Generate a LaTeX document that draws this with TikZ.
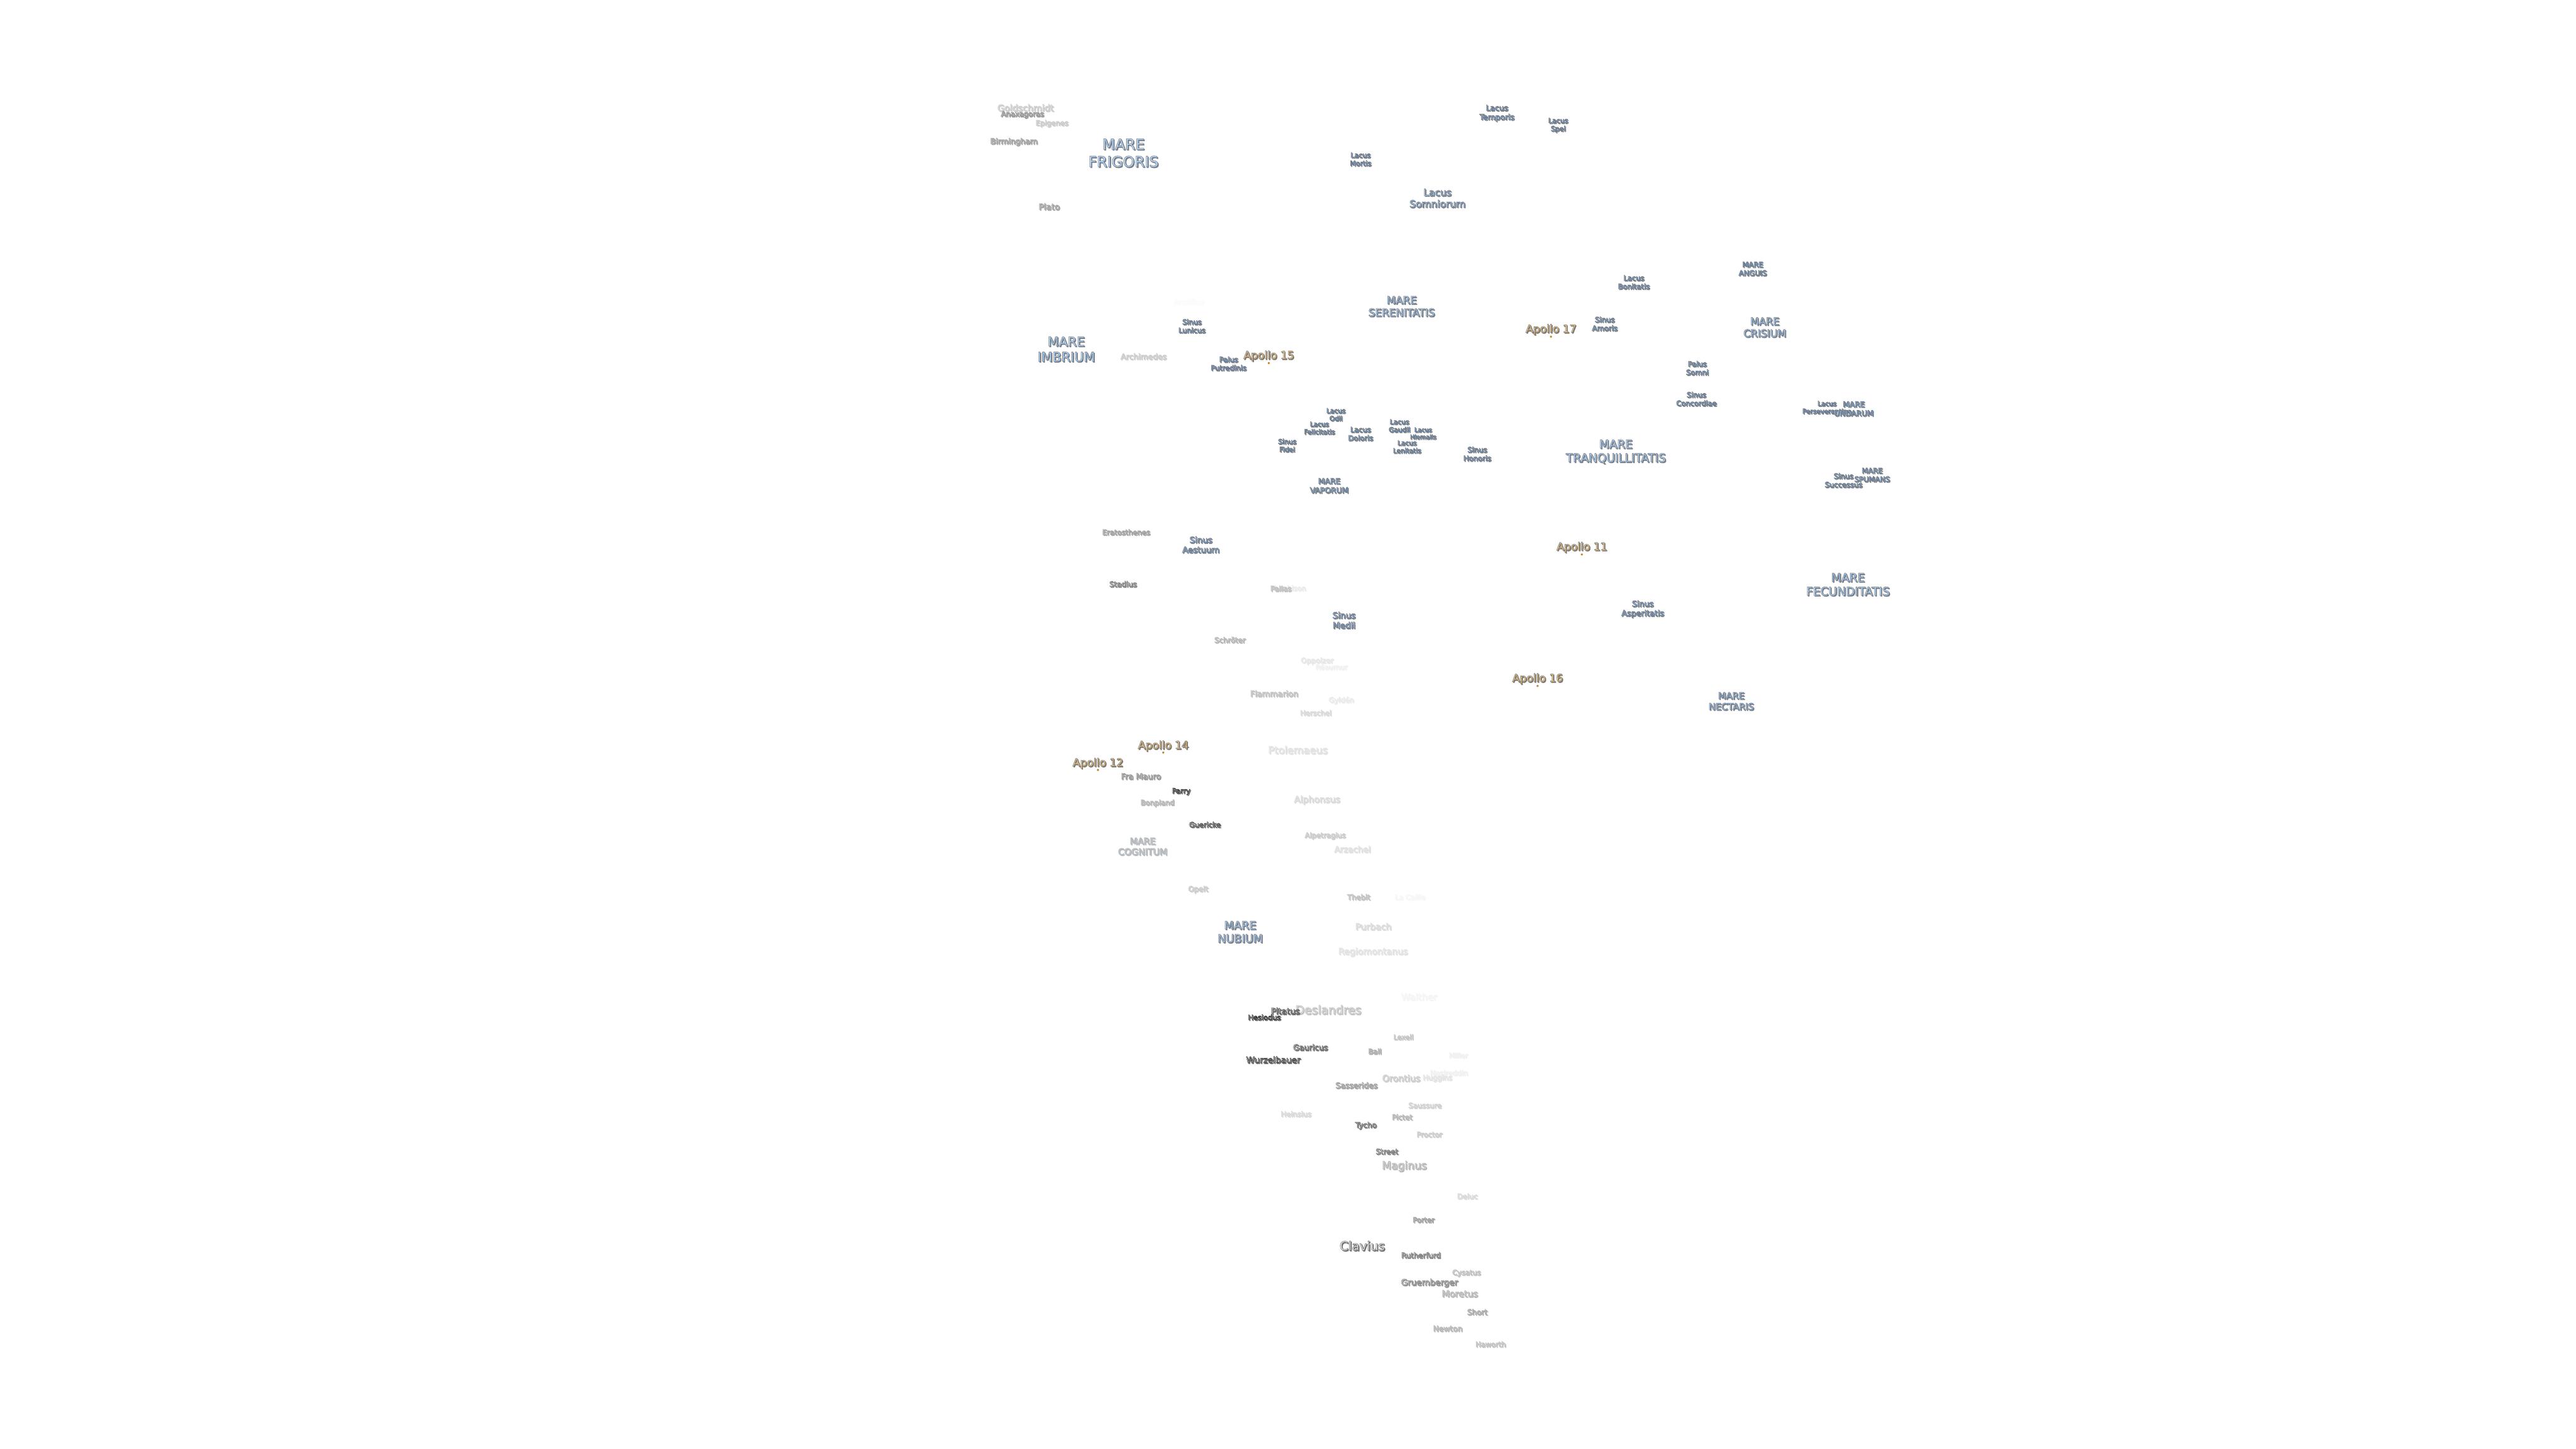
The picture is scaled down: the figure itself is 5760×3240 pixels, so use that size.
\documentclass[tikz,border=0pt]{standalone}
\usepackage{fontspec}
\setmainfont{DejaVu Sans}
\usepackage{tikz}
\newcommand{\pxfont}[1]{\pgfmathsetmacro\ptsz{#1*.25}\pgfmathsetmacro\ptlead{#1*.295}\fontsize{\ptsz}{\ptlead}\selectfont}
\newcommand{\glow}[1]{\leavevmode\rlap{\kern.5pt\raisebox{-.5pt}{\color{\shadetone}\special{pdf:code 2 Tr .2 w}#1\special{pdf:code 0 Tr}}}{\color{\filltone}\special{pdf:code 2 Tr .22 w \edgecode}#1\special{pdf:code 0 Tr}}}
\tikzset{
    mare/.style={font=\pxfont{#1}, inner sep=0pt, align=center, execute at begin node={\def\filltone{maremist}\def\shadetone{black!50}\def\edgecode{.40 .48 .58 RG}}},
    farmare/.style={font=\pxfont{#1}, inner sep=0pt, align=center, execute at begin node={\def\filltone{black!14}\def\shadetone{black!26}\def\edgecode{.66 .69 .72 RG}}},
    apollo/.style={font=\pxfont{#1}, inner sep=0pt, align=center, execute at begin node={\def\filltone{apollosand}\def\shadetone{black!52}\def\edgecode{.52 .46 .36 RG}}},
    crater/.style 2 args={font=\pxfont{#1}, inner sep=0pt, align=center, execute at begin node={\pgfmathsetmacro\edgegrey{1-#2*.8/100}\pgfmathsetmacro\fillpct{max(0,min(#2*.4,60-#2))}\pgfmathsetmacro\shadepct{min(55,#2*.8)}\def\filltone{black!\fillpct}\def\shadetone{black!\shadepct}\def\edgecode{\edgegrey\space G}}},
    site/.style={circle, inner sep=0pt, minimum size=1.2pt, fill=apollopin}
}
\definecolor{maremist}{HTML}{C6E0FA}
\definecolor{apollosand}{HTML}{F9DDAA}
\definecolor{apollopin}{HTML}{C08A3C}

\begin{document}
\begin{tikzpicture}[x=.25pt,y=-.25pt]
    \useasboundingbox (0,0) rectangle (5760,3240);
    \node[crater={20}{25}] (goldschmidt) at (2293,242) {\glow{Goldschmidt}};
    \node[crater={16.2}{50}] (anaxagoras) at (2286,257) {\glow{Anaxagoras}};
    \node[crater={16}{25}] (epigenes) at (2352,277) {\glow{Epigenes}};
    \node[crater={17.3}{45}] (birmingham) at (2267,318) {\glow{Birmingham}};
    \node[crater={18.8}{45}] (plato) at (2346,463) {\glow{Plato}};
    \node[crater={17.4}{25}] (archimedes) at (2557,798) {\glow{Archimedes}};
    \node[crater={16}{2}] (aristillus) at (2658,676) {\glow{Aristillus}};
    \node[crater={16.2}{45}] (eratosthenes) at (2518,1191) {\glow{Eratosthenes}};
    \node[crater={16.5}{60}] (stadius) at (2511,1307) {\glow{Stadius}};
    \node[crater={16.4}{35}] (schroter) at (2750,1432) {\glow{Schröter}};
    \node[crater={15.6}{10}] (murchison) at (2880,1316) {\glow{Murchison}};
    \node[crater={16.3}{30}] (pallas) at (2864,1317) {\glow{Pallas}};
    \node[crater={16.2}{12}] (oppolzer) at (2945,1479) {\glow{Oppolzer}};
    \node[crater={15.7}{7}] (reaumur) at (2977,1492) {\glow{Réaumur}};
    \node[crater={18}{30}] (flammarion) at (2849,1552) {\glow{Flammarion}};
    \node[crater={16}{10}] (gylden) at (2999,1567) {\glow{Gyldén}};
    \node[crater={16}{18}] (herschel) at (2942,1595) {\glow{Herschel}};
    \node[crater={22.7}{15}] (ptolemaeus) at (2902,1678) {\glow{Ptolemaeus}};
    \node[crater={18}{50}] (framauro) at (2551,1737) {\glow{Fra Mauro}};
    \node[crater={16}{95}] (parry) at (2641,1771) {\glow{Parry}};
    \node[crater={16}{35}] (bonpland) at (2588,1797) {\glow{Bonpland}};
    \node[crater={20}{18}] (alphonsus) at (2945,1790) {\glow{Alphonsus}};
    \node[crater={16}{80}] (guericke) at (2694,1845) {\glow{Guericke}};
    \node[crater={16}{25}] (alpetragius) at (2963,1870) {\glow{Alpetragius}};
    \node[crater={18.8}{15}] (arzachel) at (3024,1900) {\glow{Arzachel}};
    \node[crater={16.5}{25}] (opelt) at (2679,1990) {\glow{Opelt}};
    \node[crater={16.2}{30}] (thebit) at (3038,2007) {\glow{Thebit}};
    \node[crater={16}{4}] (lacaille) at (3153,2007) {\glow{La Caille}};
    \node[crater={19.8}{18}] (purbach) at (3071,2073) {\glow{Purbach}};
    \node[crater={19.9}{14}] (regiomontanus) at (3070,2130) {\glow{Regiomontanus}};
    \node[crater={20.8}{5}] (walther) at (3173,2230) {\glow{Walther}};
    \node[crater={26.4}{30}] (deslandres) at (2970,2259) {\glow{Deslandres}};
    \node[crater={18.8}{85}] (pitatus) at (2874,2262) {\glow{Pitatus}};
    \node[crater={16}{100}] (hesiodus) at (2827,2276) {\glow{Hesiodus}};
    \node[crater={15.6}{28}] (lexell) at (3138,2320) {\glow{Lexell}};
    \node[crater={17.6}{70}] (gauricus) at (2930,2343) {\glow{Gauricus}};
    \node[crater={16}{40}] (ball) at (3074,2352) {\glow{Ball}};
    \node[crater={15.5}{7}] (miller) at (3261,2361) {\glow{Miller}};
    \node[crater={19.2}{95}] (wurzelbauer) at (2847,2371) {\glow{Wurzelbauer}};
    \node[crater={15.8}{7}] (nasireddin) at (3240,2400) {\glow{Nasireddin}};
    \node[crater={16}{13}] (huggins) at (3214,2412) {\glow{Huggins}};
    \node[crater={20}{25}] (orontius) at (3133,2412) {\glow{Orontius}};
    \node[crater={17.5}{45}] (sasserides) at (3033,2428) {\glow{Sasserides}};
    \node[crater={16.2}{22}] (saussure) at (3186,2473) {\glow{Saussure}};
    \node[crater={16}{18}] (heinsius) at (2898,2492) {\glow{Heinsius}};
    \node[crater={16.2}{35}] (pictet) at (3135,2499) {\glow{Pictet}};
    \node[crater={16.7}{65}] (tycho) at (3054,2518) {\glow{Tycho}};
    \node[crater={16}{25}] (proctor) at (3196,2538) {\glow{Proctor}};
    \node[crater={16.4}{60}] (street) at (3101,2576) {\glow{Street}};
    \node[crater={24}{35}] (maginus) at (3140,2609) {\glow{Maginus}};
    \node[crater={16}{18}] (deluc) at (3281,2676) {\glow{Deluc}};
    \node[crater={16}{45}] (porter) at (3183,2729) {\glow{Porter}};
    \node[crater={28}{70}] (clavius) at (3046,2787) {\glow{Clavius}};
    \node[crater={16.5}{60}] (rutherfurd) at (3177,2808) {\glow{Rutherfurd}};
    \node[crater={16}{30}] (cysatus) at (3279,2848) {\glow{Cysatus}};
    \node[crater={18.9}{55}] (gruemberger) at (3196,2870) {\glow{Gruemberger}};
    \node[crater={20}{35}] (moretus) at (3264,2894) {\glow{Moretus}};
    \node[crater={16.8}{40}] (short) at (3303,2935) {\glow{Short}};
    \node[crater={17.2}{35}] (newton) at (3237,2972) {\glow{Newton}};
    \node[crater={16}{30}] (haworth) at (3333,3007) {\glow{Haworth}};
    \node[mare=33] (frigoris) at (2512,343) {\glow{MARE}\\\glow{FRIGORIS}};
    \node[mare=29] (imbrium) at (2384,782) {\glow{MARE}\\\glow{IMBRIUM}};
    \node[mare=23.5] (serenitatis) at (3134,686) {\glow{MARE}\\\glow{SERENITATIS}};
    \node[mare=26] (tranquillitatis) at (3613,1011) {\glow{MARE}\\\glow{TRANQUILLITATIS}};
    \node[mare=26.2] (fecunditatis) at (4132,1308) {\glow{MARE}\\\glow{FECUNDITATIS}};
    \node[mare=20.6] (nectaris) at (3871,1569) {\glow{MARE}\\\glow{NECTARIS}};
    \node[mare=22.7] (crisium) at (3946,733) {\glow{MARE}\\\glow{CRISIUM}};
    \node[mare=16.2] (anguis) at (3919,602) {\glow{MARE}\\\glow{ANGUIS}};
    \node[mare=17.3] (vaporum) at (2972,1087) {\glow{MARE}\\\glow{VAPORUM}};
    \node[mare=25] (nubium) at (2773,2085) {\glow{MARE}\\\glow{NUBIUM}};
    \node[farmare=20] (cognitum) at (2555,1894) {\glow{MARE}\\\glow{COGNITUM}};
    \node[mare=14.6] (perseverantiae) at (4085,912) {\glow{Lacus}\\\glow{Perseverantiae}};
    \node[mare=17] (undarum) at (4145,915) {\glow{MARE}\\\glow{UNDARUM}};
    \node[mare=16.2] (successus) at (4122,1075) {\glow{Sinus}\\\glow{Successus}};
    \node[mare=16.2] (spumans) at (4186,1063) {\glow{MARE}\\\glow{SPUMANS}};
    \node[mare=17.3] (temporis) at (3347,254) {\glow{Lacus}\\\glow{Temporis}};
    \node[mare=15.3] (spei) at (3484,281) {\glow{Lacus}\\\glow{Spei}};
    \node[mare=15.5] (mortis) at (3042,357) {\glow{Lacus}\\\glow{Mortis}};
    \node[mare=21.7] (somniorum) at (3214,444) {\glow{Lacus}\\\glow{Somniorum}};
    \node[mare=16.1] (bonitatis) at (3653,632) {\glow{Lacus}\\\glow{Bonitatis}};
    \node[mare=16.3] (amoris) at (3588,725) {\glow{Sinus}\\\glow{Amoris}};
    \node[mare=16] (somni) at (3795,824) {\glow{Palus}\\\glow{Somni}};
    \node[mare=16] (concordiae) at (3793,893) {\glow{Sinus}\\\glow{Concordiae}};
    \node[mare=15.8] (lunicus) at (2665,730) {\glow{Sinus}\\\glow{Lunicus}};
    \node[mare=16] (putredinis) at (2747,814) {\glow{Palus}\\\glow{Putredinis}};
    \node[mare=14.7] (odii) at (2987,928) {\glow{Lacus}\\\glow{Odii}};
    \node[mare=14.6] (felicitatis) at (2950,958) {\glow{Lacus}\\\glow{Felicitatis}};
    \node[mare=16] (doloris) at (3042,971) {\glow{Lacus}\\\glow{Doloris}};
    \node[mare=15] (fidei) at (2878,997) {\glow{Sinus}\\\glow{Fidei}};
    \node[mare=14.9] (gaudii) at (3129,953) {\glow{Lacus}\\\glow{Gaudii}};
    \node[mare=13.5] (hiemalis) at (3182,970) {\glow{Lacus}\\\glow{Hiemalis}};
    \node[mare=14.7] (lenitatis) at (3146,1000) {\glow{Lacus}\\\glow{Lenitatis}};
    \node[mare=16.2] (honoris) at (3303,1016) {\glow{Sinus}\\\glow{Honoris}};
    \node[mare=18.7] (aestuum) at (2685,1219) {\glow{Sinus}\\\glow{Aestuum}};
    \node[mare=19] (medii) at (3005,1388) {\glow{Sinus}\\\glow{Medii}};
    \node[mare=17.8] (asperitatis) at (3673,1363) {\glow{Sinus}\\\glow{Asperitatis}};
    \node[apollo=24.1] (a15) at (2837,797) {\glow{Apollo 15}};
    \node[apollo=24.1] (a17) at (3468,738) {\glow{Apollo 17}};
    \node[apollo=24.1] (a11) at (3537,1225) {\glow{Apollo 11}};
    \node[apollo=24.1] (a16) at (3438,1519) {\glow{Apollo 16}};
    \node[apollo=24.1] (a14) at (2601,1669) {\glow{Apollo 14}};
    \node[apollo=24.1] (a12) at (2455,1708) {\glow{Apollo 12}};
    \node[site] (a15site) at (2837,812) {};
    \node[site] (a17site) at (3468,753) {};
    \node[site] (a11site) at (3537,1240) {};
    \node[site] (a16site) at (3438,1534) {};
    \node[site] (a14site) at (2601,1683) {};
    \node[site] (a12site) at (2455,1722) {};
\end{tikzpicture}
\end{document}
